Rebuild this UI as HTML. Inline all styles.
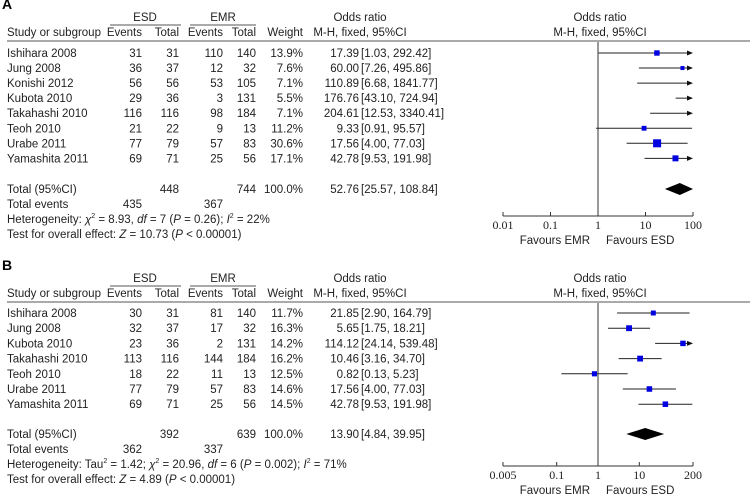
<!DOCTYPE html>
<html><head><meta charset="utf-8"><style>
body{margin:0;background:#fff;}
svg{display:block;font-family:"Liberation Sans",sans-serif;font-size:11.5px;fill:#222;}
</style></head><body>
<svg id="c" width="755" height="496" viewBox="0 0 755 496"></svg>
<script>
// Panel A data
const aStudies=["Ishihara 2008","Jung 2008","Konishi 2012","Kubota 2010","Takahashi 2010","Teoh 2010","Urabe 2011","Yamashita 2011"];
const aEsdEv=[31,36,56,29,116,21,77,69];
const aEsdTot=[31,37,56,36,116,22,79,71];
const aEmrEv=[110,12,53,3,98,9,57,25];
const aEmrTot=[140,32,105,131,184,13,83,56];
const aWeight=[13.9,7.6,7.1,5.5,7.1,11.2,30.6,17.1];
const aOR=[17.39,60.00,110.89,176.76,204.61,9.33,17.56,42.78];
const aLo=[1.03,7.26,6.68,43.10,12.53,0.91,4.00,9.53];
const aHi=[292.42,495.86,1841.77,724.94,3340.41,95.57,77.03,191.98];
const aTotal=[52.76,25.57,108.84];
const aTicks=[0.01,0.1,1,10,100];
const aTickLabels=["0.01","0.1","1","10","100"];
// Panel B data
const bStudies=["Ishihara 2008","Jung 2008","Kubota 2010","Takahashi 2010","Teoh 2010","Urabe 2011","Yamashita 2011"];
const bEsdEv=[30,32,23,113,18,77,69];
const bEsdTot=[31,37,36,116,22,79,71];
const bEmrEv=[81,17,2,144,11,57,25];
const bEmrTot=[140,32,131,184,13,83,56];
const bWeight=[11.7,16.3,14.2,16.2,12.5,14.6,14.5];
const bOR=[21.85,5.65,114.12,10.46,0.82,17.56,42.78];
const bLo=[2.90,1.75,24.14,3.16,0.13,4.00,9.53];
const bHi=[164.79,18.21,539.48,34.70,5.23,77.03,191.98];
const bTotal=[13.90,4.84,39.95];
const bTicks=[0.005,0.1,1,10,200];
const bTickLabels=["0.005","0.1","1","10","200"];

const svg=document.getElementById('c');
const NS='http://www.w3.org/2000/svg';
function mk(tag,attrs,parent){const e=document.createElementNS(NS,tag);for(const k in attrs)e.setAttribute(k,attrs[k]);(parent||svg).appendChild(e);return e;}
function txt(x,y,s,anchor,name,extra){const t=mk('text',Object.assign({x:x,y:y,'text-anchor':anchor||'start'},extra||{}));t.innerHTML=s;


return t;}
function fmt(v){return v.toFixed(2);}

function panel(p){
  const g=mk('g',{});
  
  
  const Y=p.y0;
  txt(2,Y-8,p.label,'start','panel-label',{'font-weight':'bold','font-size':'14px',fill:'#000'});
  txt(145,Y+4,'ESD','middle','esd-header');
  txt(223,Y+4,'EMR','middle','emr-header');
  mk('line',{x1:110,y1:Y+8,x2:181,y2:Y+8,stroke:'#555'});
  mk('line',{x1:190,y1:Y+8,x2:256,y2:Y+8,stroke:'#555'});
  txt(360,Y+4,'Odds ratio','middle','or-header');
  txt(600,Y+4,'Odds ratio','middle','plot-header');
  const hy=Y+19;
  txt(7,hy,'Study or subgroup','start','study-header');
  txt(142,hy,'Events','end','esd-events-header');
  txt(179,hy,'Total','end','esd-total-header');
  txt(223,hy,'Events','end','emr-events-header');
  txt(256,hy,'Total','end','emr-total-header');
  txt(303,hy,'Weight','end','weight-header');
  txt(360,hy,'M-H, fixed, 95%CI','middle','or-method-header');
  txt(600,hy,'M-H, fixed, 95%CI','middle','plot-method-header');
  mk('line',{x1:7,y1:hy+5,x2:750,y2:hy+5,stroke:'#555'});
  const xs=v=>p.cx+Math.log10(v)*p.ppd;
  const xmin=xs(p.ticks[0]),xmax=xs(p.ticks[p.ticks.length-1]);
  p.studies.forEach((s,i)=>{
    const ry=p.r0+i*p.dy;
    txt(7,ry+4,s,'start','study-name');
    txt(142,ry+4,p.esdEv[i],'end','esd-events');
    txt(179,ry+4,p.esdTot[i],'end','esd-total');
    txt(223,ry+4,p.emrEv[i],'end','emr-events');
    txt(256,ry+4,p.emrTot[i],'end','emr-total');
    txt(303,ry+4,p.weight[i].toFixed(1)+'%','end','weight');
    txt(359,ry+4,fmt(p.or[i]),'end','odds-ratio');
    txt(361,ry+4,'['+fmt(p.lo[i])+', '+fmt(p.hi[i])+']','start','confidence-interval');
    let x1=Math.max(xs(p.lo[i]),xmin),x2=Math.min(xs(p.hi[i]),xmax);
    const arrow=p.hi[i]>p.ticks[p.ticks.length-1];
    const l=mk('line',{x1:x1,y1:ry,x2:arrow?x2-4:x2,y2:ry,stroke:'#222','stroke-width':1});
    
    
    if(arrow){const a=mk('polygon',{points:`${x2},${ry} ${x2-6},${ry-2.5} ${x2-6},${ry+2.5}`,fill:'#111'});
      
      }
    const xo=xs(p.or[i]);
    if(xo<=xmax){const sz=1.45*Math.sqrt(p.weight[i]);
      const r=mk('rect',{x:xo-sz/2,y:ry-sz/2,width:sz,height:sz,fill:'#0000e0'});
      
      }
  });
  const ty=p.tY;
  txt(7,ty+4,'Total (95%CI)','start','total-label');
  txt(179,ty+4,p.esdTot.reduce((a,b)=>a+b,0),'end','esd-total-sum');
  txt(256,ty+4,p.emrTot.reduce((a,b)=>a+b,0),'end','emr-total-sum');
  txt(303,ty+4,'100.0%','end','total-weight');
  txt(359,ty+4,fmt(p.total[0]),'end','total-or');
  txt(361,ty+4,'['+fmt(p.total[1])+', '+fmt(p.total[2])+']','start','total-ci');
  txt(142,ty+19,p.esdEv.reduce((a,b)=>a+b,0),'end','esd-events-sum');
  txt(223,ty+19,p.emrEv.reduce((a,b)=>a+b,0),'end','emr-events-sum');
  txt(7,ty+19,'Total events','start','total-events-label');
  txt(7,ty+34,p.het,'start','heterogeneity');
  txt(7,ty+49,p.test,'start','overall-effect');
  const dl=xs(p.total[1]),dr=Math.min(xs(p.total[2]),xmax),dc=xs(p.total[0]);
  const d=mk('polygon',{points:`${dl},${ty} ${dc},${ty-6} ${dr},${ty} ${dc},${ty+6}`,fill:'#000'});
  
  
  mk('line',{x1:p.cx,y1:hy+6,x2:p.cx,y2:p.axY,stroke:'#333'});
  mk('line',{x1:xmin,y1:p.axY,x2:xmax,y2:p.axY,stroke:'#333'});
  p.ticks.forEach((t,i)=>{const x=xs(t);mk('line',{x1:x,y1:p.axY,x2:x,y2:p.axY-4,stroke:'#333'});
    txt(x,p.axY+13,p.tickLabels[i],'middle','x-tick-label',{'font-family':'"Liberation Serif",serif','font-size':'12px'});});
  txt(p.cx-8,p.axY+28,'Favours EMR','end','favours-emr');
  txt(p.cx+8,p.axY+28,'Favours ESD','start','favours-esd');
}
panel({label:'A',y0:17,r0:53,dy:15.05,tY:189,studies:aStudies,esdEv:aEsdEv,esdTot:aEsdTot,emrEv:aEmrEv,emrTot:aEmrTot,weight:aWeight,or:aOR,lo:aLo,hi:aHi,total:aTotal,ticks:aTicks,tickLabels:aTickLabels,cx:598,ppd:47.5,axY:216,
 het:'Heterogeneity: <tspan font-style="italic">χ</tspan><tspan dy="-5" font-size="7">2</tspan><tspan dy="5"> = 8.93, </tspan><tspan font-style="italic">df</tspan> = 7 (<tspan font-style="italic">P</tspan> = 0.26); <tspan font-style="italic">I</tspan><tspan dy="-5" font-size="7">2</tspan><tspan dy="5"> = 22%</tspan>',
 test:'Test for overall effect: <tspan font-style="italic">Z</tspan> = 10.73 (<tspan font-style="italic">P</tspan> &lt; 0.00001)'});
panel({label:'B',y0:278,r0:313,dy:15.2,tY:434,studies:bStudies,esdEv:bEsdEv,esdTot:bEsdTot,emrEv:bEmrEv,emrTot:bEmrTot,weight:bWeight,or:bOR,lo:bLo,hi:bHi,total:bTotal,ticks:bTicks,tickLabels:bTickLabels,cx:598,ppd:41.3,axY:466,
 het:'Heterogeneity: Tau<tspan dy="-5" font-size="7">2</tspan><tspan dy="5"> = 1.42; </tspan><tspan font-style="italic">χ</tspan><tspan dy="-5" font-size="7">2</tspan><tspan dy="5"> = 20.96, </tspan><tspan font-style="italic">df</tspan> = 6 (<tspan font-style="italic">P</tspan> = 0.002); <tspan font-style="italic">I</tspan><tspan dy="-5" font-size="7">2</tspan><tspan dy="5"> = 71%</tspan>',
 test:'Test for overall effect: <tspan font-style="italic">Z</tspan> = 4.89 (<tspan font-style="italic">P</tspan> &lt; 0.00001)'});
</script>
</body></html>
